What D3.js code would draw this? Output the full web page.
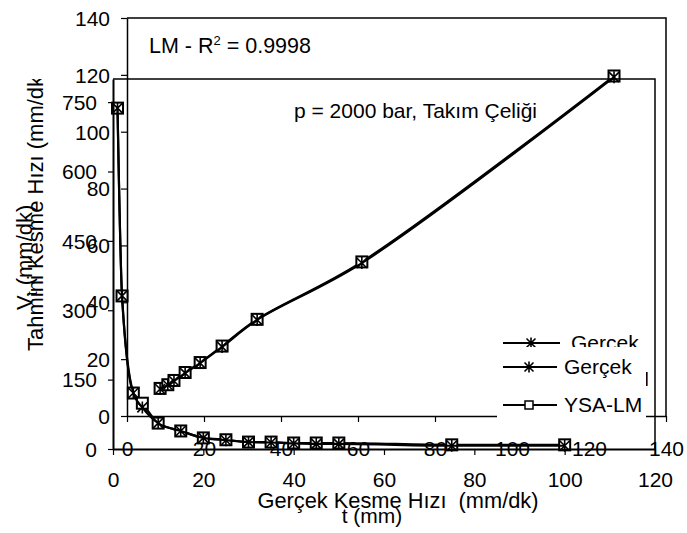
<!DOCTYPE html>
<html><head><meta charset="utf-8">
<script src="https://cdn.jsdelivr.net/npm/d3@7"></script>
<style>
body{margin:0;background:#fff;}
text{font-family:"Liberation Sans",Arial,sans-serif;font-size:21px;fill:#000;white-space:pre;}
</style></head><body>
<script>
// ---- Chart A (regression: Gerçek vs Tahmini) ----
const ticksA = [0,20,40,60,80,100,120,140];
const gercekA_x = [8.6, 10.6, 12.2, 15.1, 19.0, 24.7, 33.8, 61.0, 126.5];
const gercekA_y = [9.5, 10.9, 12.3, 15.1, 18.6, 24.3, 33.8, 53.8, 119.2];
const ysaA_x    = [8.6, 10.6, 12.2, 15.1, 19.0, 24.7, 33.8, 61.0, 126.5];
const ysaA_y    = [9.7, 11.0, 12.5, 15.3, 18.8, 24.6, 34.0, 54.2, 119.6];
// ---- Chart B (t vs Vt) ----
const ticksBx = [0,20,40,60,80,100,120];
const ticksBy = [0,150,300,450,600,750];
const tVals   = [1, 2, 4.5, 6.5, 10, 15, 20, 25, 30, 35, 40, 45, 50, 75, 100];
const vGercek = [737, 331, 121, 90, 56, 39, 24, 19, 15, 14, 12, 11, 11, 7, 7];
const vYsa    = [737, 331, 121, 99, 56, 39, 24, 20, 15, 15, 13, 13, 13, 9, 9];
const legendLabels = ["Gerçek", "YSA-LM"];

const W=687,H=533;
const svg=d3.select("body").append("svg").attr("width",W).attr("height",H);

const starPath = s => `M${-s},${-s}L${s},${s}M${-s},${s}L${s},${-s}M0,${-s-1}L0,${s+1}`;

function drawSeries(g, xs, ys, x, y, marker, curve){
  const pts = xs.map((d,i)=>[x(d), y(ys[i])]);
  g.append("path").attr("d", d3.line().curve(curve)(pts))
    .attr("fill","none").attr("stroke","#000").attr("stroke-width",2.2);
  const m = g.selectAll(null).data(pts).enter();
  if(marker==="sq"){
    m.append("rect").attr("x",d=>d[0]-5.5).attr("y",d=>d[1]-5.5).attr("width",11).attr("height",11)
     .attr("fill","#fff").attr("stroke","#000").attr("stroke-width",2);
  } else {
    m.append("path").attr("transform",d=>`translate(${d[0]},${d[1]})`).attr("d",starPath(5))
     .attr("fill","none").attr("stroke","#000").attr("stroke-width",1.6);
  }
}

// ================= Chart A =================
const gA = svg.append("g");
const xA = d3.scaleLinear([0,140],[127,666]);
const yA = d3.scaleLinear([0,140],[416,18]);
gA.append("path").attr("d",`M${xA(0)},${yA(140)}H${xA(140)}V${yA(0)}`).attr("fill","none").attr("stroke","#000").attr("stroke-width",1.5);
const axA_x = gA.append("g").attr("transform",`translate(0,${yA(0)})`)
  .call(d3.axisBottom(xA).tickValues(ticksA).tickSize(6).tickSizeOuter(0));
axA_x.selectAll("text").attr("y",33).attr("dy","0.35em");
const axA_y = gA.append("g").attr("transform",`translate(${xA(0)},0)`)
  .call(d3.axisLeft(yA).tickValues(ticksA).tickSize(6).tickSizeOuter(0).tickPadding(11));
[axA_x,axA_y].forEach(a=>{a.selectAll("text").style("font-size","21px").style("font-family",null);
  a.select(".domain").attr("stroke-width",1.5); a.selectAll(".tick line").attr("stroke-width",1.2);});
axA_y.selectAll("text").attr("dy","0.35em");
const cA = d3.curveCatmullRom.alpha(0.5);
drawSeries(gA, ysaA_x, ysaA_y, xA, yA, "sq", cA);
drawSeries(gA, gercekA_x, gercekA_y, xA, yA, "star", cA);
// legend A
const legA = gA.append("g");
[0,1].forEach(i=>{
  const yy = 343 + i*36;
  legA.append("line").attr("x1",503).attr("x2",560).attr("y1",yy).attr("y2",yy).attr("stroke","#000").attr("stroke-width",2);
  if(i===0) legA.append("path").attr("transform",`translate(531,${yy})`).attr("d",starPath(4.5)).attr("fill","none").attr("stroke","#000").attr("stroke-width",1.6);
  else legA.append("rect").attr("x",527).attr("y",yy-4).attr("width",8).attr("height",8).attr("fill","#fff").attr("stroke","#000").attr("stroke-width",1.5);
  legA.append("text").attr("x",571).attr("y",yy+7).text(legendLabels[i]);
});
// annotations
svg.append("text").attr("x",149).attr("y",53).style("font-size","21.5px").html('LM - R<tspan dy="-8" style="font-size:13px">2</tspan><tspan dy="8"> = 0.9998</tspan>');
svg.append("text").attr("x",294).attr("y",118).text("p = 2000 bar, Takım Çeliği");
// axis titles A
svg.append("text").attr("x",398).attr("y",508).attr("text-anchor","middle").style("font-size","21.8px").text("Gerçek Kesme Hızı  (mm/dk)");
svg.append("clipPath").attr("id","clipT").append("rect").attr("x",0).attr("y",79).attr("width",100).attr("height",400);
svg.append("g").attr("clip-path","url(#clipT)").append("text")
  .attr("transform","translate(43,351) rotate(-90)").style("font-size","22px").text("Tahmini Kesme Hızı (mm/dk)");

// ================= Chart B =================
const gB = svg.append("g");
const xB = d3.scaleLinear([0,120],[113,655]);
const yB = d3.scaleLinear([0,800],[449,79]);
gB.append("path").attr("d",`M${xB(0)},${yB(800)}H${xB(120)}V${yB(0)}`).attr("fill","none").attr("stroke","#000").attr("stroke-width",1.5);
const cB = d3.curveMonotoneX;
drawSeries(gB, tVals, vYsa, xB, yB, "sq", cB);
drawSeries(gB, tVals, vGercek, xB, yB, "star", cB);
const axB_x = gB.append("g").attr("transform",`translate(0,${yB(0)})`)
  .call(d3.axisBottom(xB).tickValues(ticksBx).tickSize(6).tickSizeOuter(0));
axB_x.selectAll("text").attr("y",31).attr("dy","0.35em");
const axB_y = gB.append("g").attr("transform",`translate(${xB(0)},0)`)
  .call(d3.axisLeft(yB).tickValues(ticksBy).tickSize(5).tickSizeOuter(0).tickPadding(11));
axB_y.selectAll("text").attr("dy","0.35em");
[axB_x,axB_y].forEach(a=>{a.selectAll("text").style("font-size","21px").style("font-family",null);
  a.select(".domain").attr("stroke-width",2); a.selectAll(".tick line").attr("stroke-width",1.2);});
// legend B
const legB = gB.append("g");
legB.append("rect").attr("x",497).attr("y",347).attr("width",149).attr("height",78).attr("fill","#fff");
[0,1].forEach(i=>{
  const yy = 367 + i*38;
  legB.append("line").attr("x1",503).attr("x2",557).attr("y1",yy).attr("y2",yy).attr("stroke","#000").attr("stroke-width",2);
  if(i===0) legB.append("path").attr("transform",`translate(529,${yy})`).attr("d",starPath(4.5)).attr("fill","none").attr("stroke","#000").attr("stroke-width",1.6);
  else legB.append("rect").attr("x",525).attr("y",yy-4).attr("width",8).attr("height",8).attr("fill","#fff").attr("stroke","#000").attr("stroke-width",1.5);
  legB.append("text").attr("x",564).attr("y",yy+7).text(legendLabels[i]);
});
// axis titles B
svg.append("text").attr("x",372).attr("y",523).attr("text-anchor","middle").text("t (mm)");
svg.append("text").attr("transform","translate(32,310) rotate(-90)").style("font-size","22px")
  .html('V<tspan dy="5" style="font-size:14px">t</tspan><tspan dy="-5"> (mm/dk)</tspan>');
</script></body></html>
